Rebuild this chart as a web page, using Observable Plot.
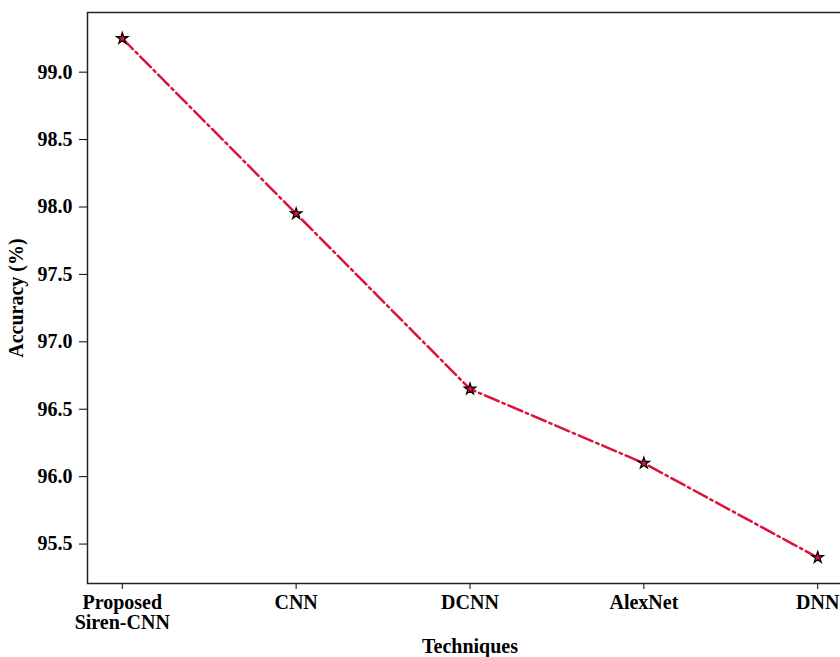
<!DOCTYPE html>
<html>
<head>
<meta charset="utf-8">
<script src="https://cdn.jsdelivr.net/npm/d3@7"></script>
<script src="https://cdn.jsdelivr.net/npm/@observablehq/plot@0.6"></script>
<style>
  html, body { margin: 0; padding: 0; background: white; overflow: hidden; }
  #wrap { width: 840px; height: 657px; overflow: hidden; }
</style>
</head>
<body>
<div id="wrap"></div>
<script>
const categories = ["Proposed\nSiren-CNN", "CNN", "DCNN", "AlexNet", "DNN"];
const accuracy = [99.25, 97.95, 96.65, 96.10, 95.40];
const yTicks = [95.5, 96.0, 96.5, 97.0, 97.5, 98.0, 98.5, 99.0];

const data = categories.map((c, i) => ({technique: c, accuracy: accuracy[i]}));
const [lo, hi] = d3.extent(accuracy);
const pad = (hi - lo) * 0.05;

const lineColor = "#dc143c";

const chart = Plot.plot({
  width: 852,
  height: 657,
  marginLeft: 87,
  marginRight: 0,
  marginTop: 12,
  marginBottom: 74,
  style: {
    fontFamily: "'Liberation Serif', 'Times New Roman', serif",
    fontSize: "20px",
    fontWeight: "bold",
    maxWidth: "none",
    background: "white",
    color: "#000"
  },
  x: {type: "point", domain: categories, padding: 0.2, round: false},
  y: {domain: [lo - pad, hi + pad]},
  marks: [
    Plot.axisY({
      ticks: yTicks, tickFormat: d => d.toFixed(1), tickSize: 8, tickPadding: 7,
      label: "Accuracy (%)", labelAnchor: "center", labelOffset: 79, labelArrow: "none"
    }),
    Plot.axisX({
      tickSize: 6, tickPadding: 5,
      label: "Techniques", labelAnchor: "center", labelOffset: 69, labelArrow: "none"
    }),
    Plot.frame({stroke: "#222", strokeWidth: 1.5}),
    Plot.line(data, {
      x: "technique", y: "accuracy", stroke: lineColor, strokeWidth: 2.5,
      strokeDasharray: "15,4,2.5,4"
    }),
    Plot.dot(data, {
      x: "technique", y: "accuracy", symbol: "star", r: 3.6,
      fill: lineColor, stroke: "#000", strokeWidth: 1.2
    })
  ]
});
document.getElementById("wrap").appendChild(chart);
</script>
</body>
</html>
